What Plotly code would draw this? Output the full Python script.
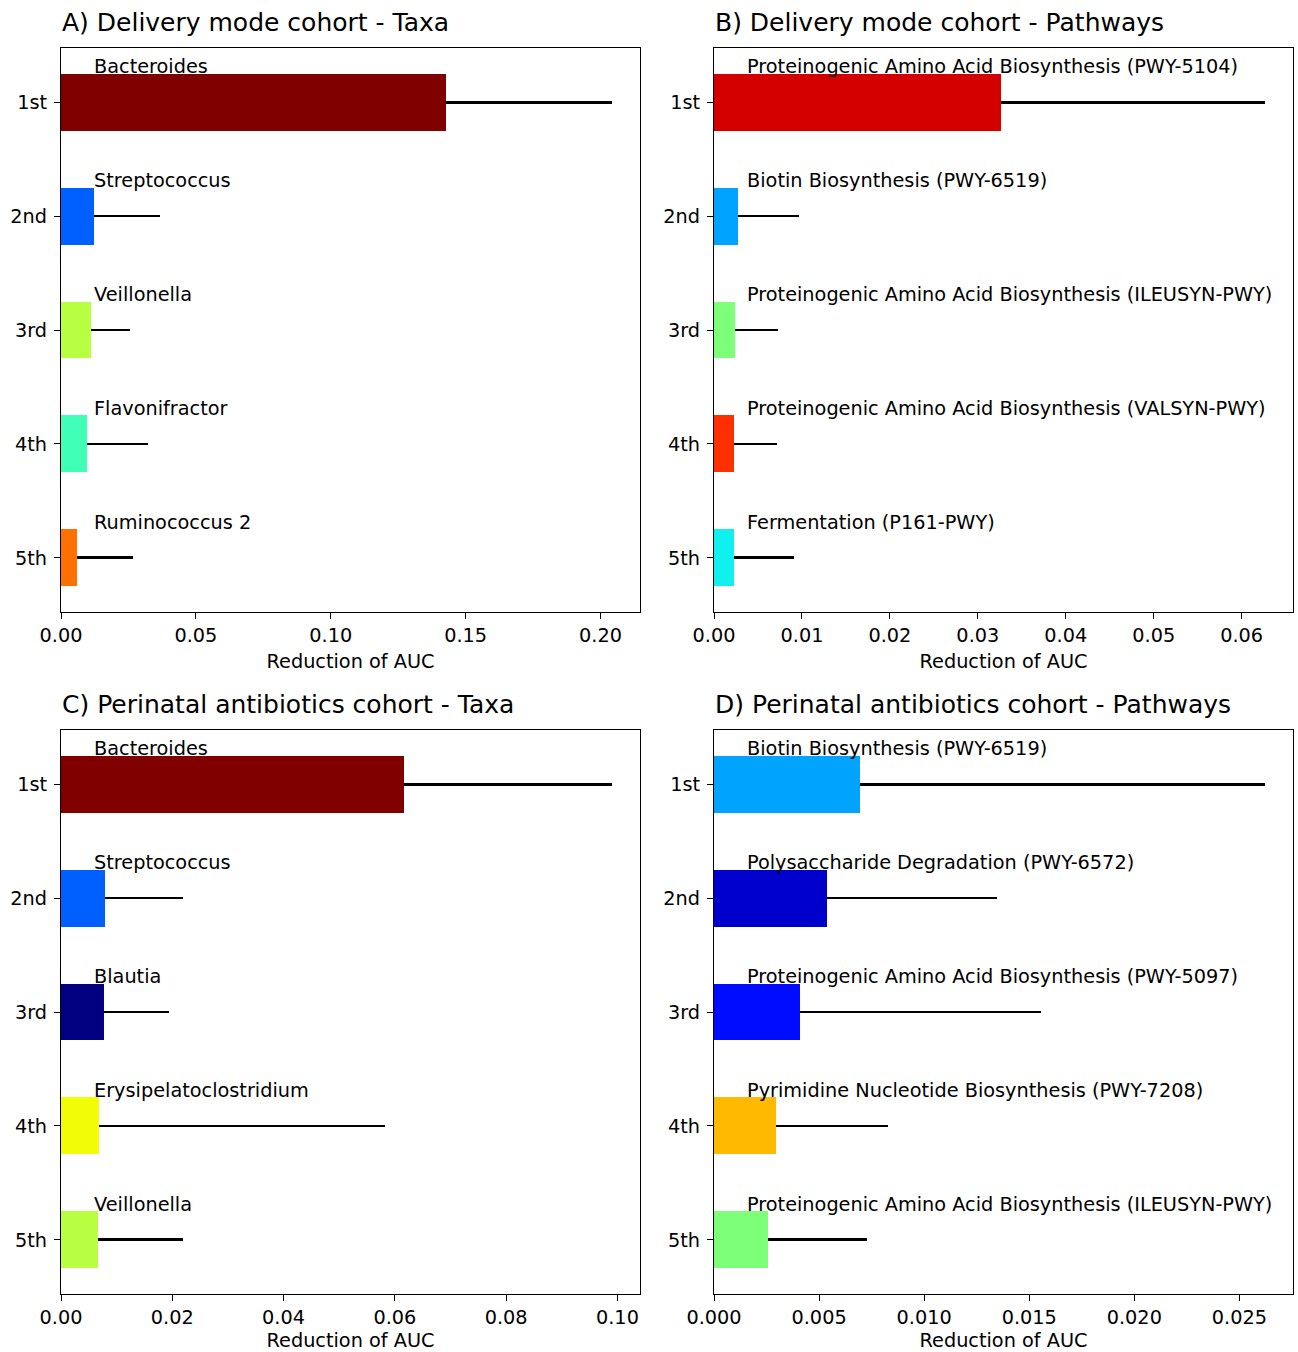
import plotly.graph_objects as go

# Rank labels shared by all panels (top to bottom)
ranks = ["1st", "2nd", "3rd", "4th", "5th"]

# A) Delivery mode cohort - Taxa
taxa_dm_names = ["Bacteroides", "Streptococcus", "Veillonella", "Flavonifractor", "Ruminococcus 2"]
taxa_dm_values = [0.1426, 0.0122, 0.0111, 0.0096, 0.0059]
taxa_dm_errors = [0.0618, 0.0245, 0.0145, 0.0226, 0.0208]
taxa_dm_colors = ["#800000", "#0060ff", "#b7ff40", "#40ffb7", "#ff7000"]

# B) Delivery mode cohort - Pathways
path_dm_names = [
    "Proteinogenic Amino Acid Biosynthesis (PWY-5104)",
    "Biotin Biosynthesis (PWY-6519)",
    "Proteinogenic Amino Acid Biosynthesis (ILEUSYN-PWY)",
    "Proteinogenic Amino Acid Biosynthesis (VALSYN-PWY)",
    "Fermentation (P161-PWY)",
]
path_dm_values = [0.0326, 0.0027, 0.0024, 0.0023, 0.0023]
path_dm_errors = [0.0301, 0.0070, 0.0049, 0.0049, 0.0068]
path_dm_colors = ["#d40000", "#00a4ff", "#7dff7a", "#ff3000", "#0ff0ef"]

# C) Perinatal antibiotics cohort - Taxa
taxa_ab_names = ["Bacteroides", "Streptococcus", "Blautia", "Erysipelatoclostridium", "Veillonella"]
taxa_ab_values = [0.0616, 0.0079, 0.0077, 0.0068, 0.0066]
taxa_ab_errors = [0.0375, 0.0140, 0.0117, 0.0515, 0.0153]
taxa_ab_colors = ["#800000", "#0060ff", "#000080", "#f1fc06", "#b7ff40"]

# D) Perinatal antibiotics cohort - Pathways
path_ab_names = [
    "Biotin Biosynthesis (PWY-6519)",
    "Polysaccharide Degradation (PWY-6572)",
    "Proteinogenic Amino Acid Biosynthesis (PWY-5097)",
    "Pyrimidine Nucleotide Biosynthesis (PWY-7208)",
    "Proteinogenic Amino Acid Biosynthesis (ILEUSYN-PWY)",
]
path_ab_values = [0.00694, 0.00537, 0.00409, 0.00295, 0.00257]
path_ab_errors = [0.01930, 0.00808, 0.01145, 0.00532, 0.00470]
path_ab_colors = ["#00a4ff", "#0000cd", "#000cff", "#ffb900", "#7dff7a"]

panels = [
    ("A) Delivery mode cohort - Taxa", taxa_dm_names, taxa_dm_values, taxa_dm_errors, taxa_dm_colors, 0.05, ".2f"),
    ("B) Delivery mode cohort - Pathways", path_dm_names, path_dm_values, path_dm_errors, path_dm_colors, 0.01, ".2f"),
    ("C) Perinatal antibiotics cohort - Taxa", taxa_ab_names, taxa_ab_values, taxa_ab_errors, taxa_ab_colors, 0.02, ".2f"),
    ("D) Perinatal antibiotics cohort - Pathways", path_ab_names, path_ab_values, path_ab_errors, path_ab_colors, 0.005, ".3f"),
]

W, H = 1298, 1352
x_domains = [[61 / W, 640 / W], [714 / W, 1293 / W]]
y_domains = [[1 - 612 / H, 1 - 48 / H], [1 - 1294 / H, 1 - 730 / H]]

FONT = "DejaVu Sans"
TICK_SIZE = 19.3
TITLE_SIZE = 25

fig = go.Figure()
annotations = []
positions = list(range(len(ranks)))

for k, (title, names, values, errors, colors, dtick, fmt) in enumerate(panels):
    row, col = divmod(k, 2)
    sfx = "" if k == 0 else str(k + 1)
    xa, ya = "x" + sfx, "y" + sfx

    fig.add_trace(go.Bar(
        x=values, y=positions, orientation="h", width=0.5,
        marker=dict(color=colors, line=dict(width=0)),
        error_x=dict(type="data", symmetric=False, array=errors,
                     arrayminus=[0] * len(errors), color="black",
                     thickness=2.8, width=0),
        xaxis=xa, yaxis=ya, showlegend=False,
    ))

    upper = max(v + e for v, e in zip(values, errors))
    axis_common = dict(showline=True, mirror=True, linecolor="black", linewidth=1.2,
                       ticks="outside", ticklen=6, tickwidth=1.2, tickcolor="black",
                       showgrid=False, zeroline=False, automargin=False,
                       tickfont=dict(family=FONT, size=TICK_SIZE, color="black"))
    fig.update_layout({
        "xaxis" + sfx: dict(domain=x_domains[col], anchor=ya, range=[0, upper * 1.05],
                            dtick=dtick, tick0=0, tickformat=fmt,
                            title=dict(text="Reduction of AUC", standoff=8,
                                       font=dict(family=FONT, size=TICK_SIZE, color="black")),
                            **axis_common),
        "yaxis" + sfx: dict(domain=y_domains[row], anchor=xa, range=[4.475, -0.475],
                            tickmode="array", tickvals=positions, ticktext=ranks,
                            ticklabelstandoff=3, **axis_common),
    })

    annotations.append(dict(
        text=title, xref=xa + " domain", yref=ya + " domain", x=0, y=1,
        xanchor="left", yanchor="bottom", yshift=9, xshift=-1, showarrow=False,
        font=dict(family=FONT, size=TITLE_SIZE, color="black"),
    ))
    for i, name in enumerate(names):
        annotations.append(dict(
            text=name, xref=xa + " domain", yref=ya, x=0.053, y=i - 0.31,
            xanchor="left", yanchor="middle", showarrow=False,
            font=dict(family=FONT, size=TICK_SIZE, color="black"),
        ))

fig.update_layout(
    width=W, height=H, margin=dict(l=0, r=0, t=0, b=0),
    paper_bgcolor="white", plot_bgcolor="white",
    annotations=annotations, bargap=0,
)

fig.write_html("out.html")
